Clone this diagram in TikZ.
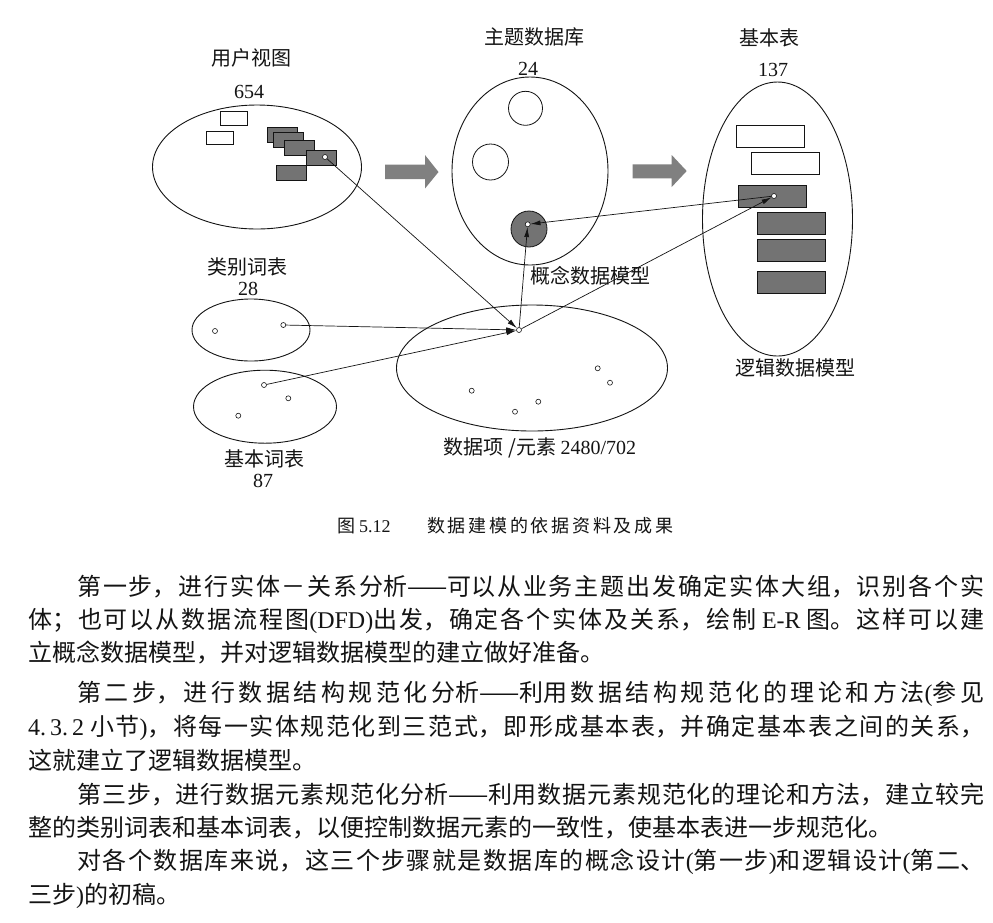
\documentclass[tikz,border=0pt]{standalone}
\usepackage{fontspec}
\setmainfont{Liberation Serif}
\newfontfamily\cjk{Noto Sans CJK SC}
\usetikzlibrary{shapes.geometric,arrows.meta}
\XeTeXlinebreaklocale "zh"
\XeTeXlinebreakskip=0pt plus 8pt
\definecolor{ink}{gray}{0.08}
\definecolor{dfill}{gray}{0.45}
\definecolor{afill}{gray}{0.50}
\newcommand{\lat}[1]{{\rmfamily #1}}
\newcommand{\jtext}[1]{\parfillskip=0pt\noindent #1\par}
\begin{document}
\begin{tikzpicture}[x=1pt,y=-1pt,
  ell/.style={draw=ink, ellipse, line width=0.9pt, inner sep=0pt},
  wbox/.style={draw=ink, fill=white, rectangle, line width=0.8pt, inner sep=0pt, minimum width=27pt, minimum height=13.5pt},
  dbox/.style={draw=ink, fill=dfill, rectangle, line width=0.8pt, inner sep=0pt, minimum width=30pt, minimum height=15pt},
  twbox/.style={draw=ink, fill=white, rectangle, line width=0.8pt, inner sep=0pt, minimum width=68pt, minimum height=22pt},
  tdbox/.style={draw=ink, fill=dfill, rectangle, line width=0.8pt, inner sep=0pt, minimum width=68pt, minimum height=22pt},
  ring/.style={draw=ink, circle, line width=0.8pt, inner sep=0pt},
  dotc/.style={draw=ink, fill=white, circle, line width=0.6pt, inner sep=0pt, minimum size=5pt},
  conn/.style={draw=ink, line width=0.7pt, -{Latex[length=10pt,width=5pt]}},
  lab/.style={text=ink, inner sep=0pt, font=\cjk\fontsize{20}{22}\selectfont},
  num/.style={text=ink, inner sep=0pt, font=\rmfamily\fontsize{20}{22}\selectfont},
  pline/.style={anchor=base west, inner sep=0pt, text=ink, font=\cjk\fontsize{24}{28}\selectfont},
  jline/.style={pline, text width=#1, align=justify}
]
\useasboundingbox[fill=white] (0,0) rectangle (993,922);

% ---------- user view ----------
\node[lab] (uvt) at (251,58) {用户视图};
\node[num] (uvn) at (249,91.5) {654};
\node[ell, minimum width=209pt, minimum height=124pt] (uv) at (257,167) {};
\node[wbox] (uw1) at (233.5,118.5) {};
\node[wbox] (uw2) at (219.5,138) {};
\node[dbox] (ud1) at (282.3,134.8) {};
\node[dbox] (ud2) at (288.5,140.2) {};
\node[dbox] (ud3) at (299.5,147.5) {};
\node[dbox] (ud4) at (321.7,157.5) {};
\node[dbox] (ud5) at (291,173) {};
\node[dotc] (udot) at (325,157) {};

% ---------- block arrows ----------
\fill[afill] (385,164.5) -- (425,164.5) -- (425,155) -- (438.5,172) -- (425,188.5) -- (425,179) -- (385,179) -- cycle;
\fill[afill] (632.7,164.3) -- (671.7,164.3) -- (671.7,155) -- (686.7,171) -- (671.7,187) -- (671.7,178.3) -- (632.7,178.3) -- cycle;

% ---------- topic database ----------
\node[lab] (tdt) at (534,36.5) {主题数据库};
\node[num] (tdn) at (528,68.5) {24};
\node[ell, minimum width=156pt, minimum height=188pt] (td) at (530,171) {};
\node[ring, minimum size=34pt] (c1) at (525.5,108.3) {};
\node[ring, minimum size=36pt] (c2) at (490.5,162) {};
\node[ring, fill=dfill, minimum size=36pt] (c3) at (529,229) {};
\node[dotc] (cdot) at (527.7,224.3) {};
\node[lab] (cdm) at (590.5,276) {概念数据模型};

% ---------- basic tables ----------
\node[lab] (btt) at (769,38) {基本表};
\node[num] (btn) at (773,69.5) {137};
\node[ell, minimum width=150pt, minimum height=274pt] (bt) at (777.5,219) {};
\node[twbox] (bw1) at (770.5,136.2) {};
\node[twbox] (bw2) at (785.2,163.8) {};
\node[tdbox] (bd1) at (772.8,196.2) {};
\node[tdbox] (bd2) at (791.3,223.8) {};
\node[tdbox] (bd3) at (791.3,250) {};
\node[tdbox] (bd4) at (791.3,282.5) {};
\node[dotc] (tdot) at (774,196) {};
\node[lab] (ldm) at (795,367.5) {逻辑数据模型};

% ---------- category word list ----------
\node[lab] (cwt) at (247.5,266.7) {类别词表};
\node[num] (cwn) at (248,288.5) {28};
\node[ell, minimum width=118pt, minimum height=62pt] (cw) at (251,330) {};
\node[dotc] (cwd1) at (215,331) {};
\node[dotc] (cwd2) at (283.3,325) {};

% ---------- basic word list ----------
\node[ell, minimum width=143pt, minimum height=73pt] (bw) at (265,406.7) {};
\node[dotc] (bwd1) at (264,385) {};
\node[dotc] (bwd2) at (288.3,398.3) {};
\node[dotc] (bwd3) at (238.3,415.7) {};
\node[lab] (bwt) at (264,459) {基本词表};
\node[num] (bwn) at (263,480.5) {87};

% ---------- data items ----------
\node[ell, minimum width=271pt, minimum height=126pt] (di) at (532,368) {};
\node[dotc] (cv) at (519,330) {};
\node[dotc] (did1) at (471.7,390.7) {};
\node[dotc] (did2) at (515,411.7) {};
\node[dotc] (did3) at (538.3,401.7) {};
\node[dotc] (did4) at (597.7,368.3) {};
\node[dotc] (did5) at (610,382.7) {};
\node[lab] (dit) at (540,447.5) {数据项 /元素 \lat{2480/702}};

% ---------- connectors ----------
\draw[conn] (udot) -- (cv);
\draw[conn] (cwd2) -- (cv);
\draw[conn] (bwd1) -- (cv);
\draw[conn] (cv) -- (cdot);
\draw[conn] (cv) -- (tdot);
\draw[conn] (tdot) -- (cdot);

% ---------- caption ----------
\node[anchor=base west, inner sep=0pt, text=ink, font=\cjk\fontsize{18}{20}\selectfont] (capa) at (337,532) {图 \lat{5.12}};
\node[jline=246pt, font=\cjk\fontsize{18}{20}\selectfont] (capb) at (427,532) {\jtext{数据建模的依据资料及成果}};

% ---------- body text ----------
\node[jline=907pt] (l1) at (77,595) {\jtext{第一步，进行实体－关系分\mbox{析——可}以从业务主题出发确定实体大组，识别各个实}};
\node[jline=956pt] (l2) at (28,628) {\jtext{体；也可以从数据流程图\lat{(DFD)}出发，确定各个实体及关系，绘制 \lat{E-R} 图。这样可以建}};
\node[pline] (l3) at (28,661) {立概念数据模型，并对逻辑数据模型的建立做好准备。};
\node[jline=907pt] (l4) at (77,701) {\jtext{第二步，进行数据结构规范化分\mbox{析——利}用数据结构规范化的理论和方法\lat{(}参见}};
\node[jline=956pt] (l5) at (28,735) {\jtext{\lat{4.\,3.\,2} 小节\lat{)}，将每一实体规范化到三范式，即形成基本表，并确定基本表之间的关系，}};
\node[pline] (l6) at (28,769) {这就建立了逻辑数据模型。};
\node[jline=907pt] (l7) at (77,803) {\jtext{第三步，进行数据元素规范化分\mbox{析——利}用数据元素规范化的理论和方法，建立较完}};
\node[pline] (l8) at (28,836) {整的类别词表和基本词表，以便控制数据元素的一致性，使基本表进一步规范化。};
\node[jline=907pt] (l9) at (77,869) {\jtext{对各个数据库来说，这三个步骤就是数据库的概念设计\lat{(}第一步\lat{)}和逻辑设计\lat{(}第二、}};
\node[pline] (l10) at (28,903) {三步\lat{)}的初稿。};
\end{tikzpicture}
\end{document}
